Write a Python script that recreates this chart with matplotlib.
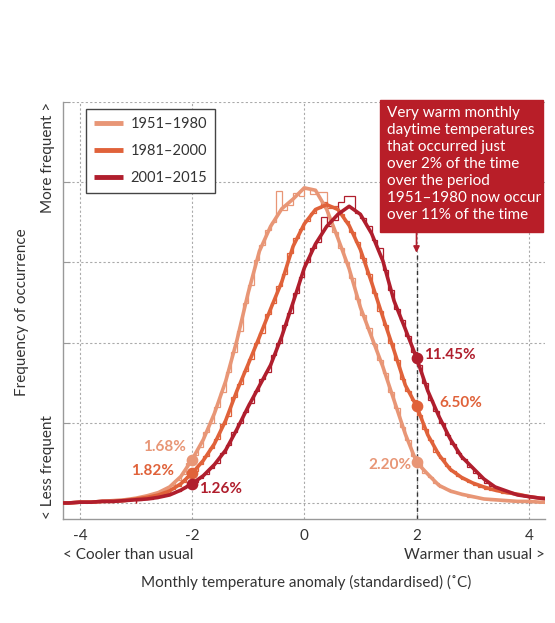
import numpy as np
import matplotlib
matplotlib.use("Agg")
import matplotlib.pyplot as plt
from matplotlib.patches import Rectangle

plt.rcParams['font.family'] = ['Lato', 'DejaVu Sans']

# periods
labels = ["1951\u20131980", "1981\u20132000", "2001\u20132015"]
colors = ["#E89676", "#E0623A", "#B01E2D"]

# smoothed curves, x = -4.4 .. 4.4 step 0.2
curve_x = np.linspace(-4.4, 4.4, 45)
curve_1951 = [0.000, 0.000, 0.001, 0.001, 0.002, 0.003, 0.004, 0.006, 0.009, 0.013,
              0.020, 0.033, 0.054, 0.079, 0.112, 0.152, 0.203, 0.262, 0.314, 0.345,
              0.367, 0.379, 0.393, 0.390, 0.366, 0.330, 0.292, 0.244, 0.207, 0.170,
              0.128, 0.086, 0.051, 0.036, 0.022, 0.015, 0.011, 0.008, 0.005, 0.004,
              0.003, 0.002, 0.002, 0.001, 0.001]
curve_1981 = [0.000, 0.000, 0.001, 0.001, 0.002, 0.002, 0.003, 0.005, 0.007, 0.010,
              0.015, 0.024, 0.037, 0.053, 0.074, 0.103, 0.140, 0.173, 0.207, 0.242,
              0.276, 0.320, 0.348, 0.366, 0.372, 0.366, 0.346, 0.316, 0.275, 0.232,
              0.190, 0.147, 0.121, 0.085, 0.060, 0.042, 0.032, 0.025, 0.020, 0.016,
              0.013, 0.011, 0.008, 0.006, 0.005]
curve_2001 = [0.000, 0.000, 0.001, 0.001, 0.002, 0.002, 0.003, 0.004, 0.005, 0.007,
              0.010, 0.016, 0.024, 0.034, 0.048, 0.066, 0.092, 0.120, 0.146, 0.172,
              0.208, 0.250, 0.293, 0.323, 0.345, 0.360, 0.370, 0.360, 0.336, 0.302,
              0.252, 0.217, 0.181, 0.140, 0.108, 0.080, 0.058, 0.044, 0.030, 0.020,
              0.015, 0.010, 0.008, 0.006, 0.005]

# histograms, bins of 0.1 from -3.0 to 4.0
hist_edges = np.linspace(-3.0, 4.0, 71)
hist_1951 = [0.006, 0.008, 0.010, 0.012, 0.014, 0.018, 0.023, 0.029, 0.036, 0.050,
             0.060, 0.070, 0.088, 0.100, 0.120, 0.138, 0.163, 0.188, 0.215, 0.250,
             0.272, 0.303, 0.322, 0.340, 0.350, 0.389, 0.365, 0.372, 0.386, 0.383,
             0.392, 0.385, 0.388, 0.388, 0.350, 0.338, 0.318, 0.300, 0.280, 0.255,
             0.235, 0.218, 0.198, 0.178, 0.162, 0.138, 0.118, 0.095, 0.078, 0.058,
             0.048, 0.038, 0.032, 0.025, 0.020, 0.017, 0.014, 0.012, 0.010, 0.008,
             0.007, 0.006, 0.005, 0.004, 0.004, 0.003, 0.003, 0.002, 0.002, 0.002]
hist_1981 = [0.005, 0.006, 0.007, 0.009, 0.011, 0.013, 0.017, 0.021, 0.026, 0.034,
             0.040, 0.048, 0.058, 0.068, 0.080, 0.098, 0.108, 0.132, 0.148, 0.165,
             0.180, 0.200, 0.212, 0.236, 0.250, 0.270, 0.285, 0.312, 0.330, 0.342,
             0.352, 0.362, 0.368, 0.375, 0.368, 0.370, 0.360, 0.352, 0.338, 0.325,
             0.305, 0.285, 0.262, 0.240, 0.222, 0.200, 0.178, 0.155, 0.140, 0.128,
             0.110, 0.092, 0.078, 0.064, 0.056, 0.046, 0.040, 0.034, 0.030, 0.026,
             0.023, 0.020, 0.018, 0.016, 0.015, 0.013, 0.012, 0.011, 0.010, 0.009]
hist_2001 = [0.004, 0.005, 0.005, 0.006, 0.009, 0.011, 0.012, 0.015, 0.019, 0.022,
             0.026, 0.031, 0.036, 0.044, 0.050, 0.062, 0.072, 0.088, 0.100, 0.113,
             0.125, 0.140, 0.155, 0.163, 0.185, 0.200, 0.222, 0.237, 0.262, 0.282,
             0.300, 0.318, 0.325, 0.357, 0.345, 0.353, 0.375, 0.383, 0.383, 0.362,
             0.355, 0.345, 0.328, 0.318, 0.290, 0.265, 0.242, 0.228, 0.208, 0.188,
             0.172, 0.150, 0.128, 0.115, 0.100, 0.085, 0.073, 0.062, 0.055, 0.045,
             0.038, 0.031, 0.025, 0.021, 0.018, 0.015, 0.013, 0.011, 0.011, 0.009]

# highlighted points at -2 and +2
cold_y = [0.054, 0.037, 0.024]
cold_text = ["1.68%", "1.82%", "1.26%"]
warm_y = [0.051, 0.121, 0.181]
warm_text = ["2.20%", "6.50%", "11.45%"]

curves = [curve_1951, curve_1981, curve_2001]
hists = [hist_1951, hist_1981, hist_2001]

fig = plt.figure(figsize=(5.55, 6.23), dpi=100)
ax = fig.add_axes([0.1135, 0.1669, 0.8685, 0.6693])

for i in range(3):
    ax.stairs(hists[i], hist_edges, color=colors[i], lw=0.9, zorder=2)
for i in range(3):
    ax.plot(curve_x, curves[i], color=colors[i], lw=2.6, label=labels[i],
            solid_capstyle='butt', zorder=3)

# dashed line at +2 and arrow from the note
ax.plot([2, 2], [-0.02, 0.312], color="#333333", lw=1, ls=(0, (3, 2.5)), zorder=1.5)
ax.annotate("", xy=(2, 0.312), xytext=(2, 0.339),
            arrowprops=dict(arrowstyle="-|>", color="#B01E2D", lw=1.2,
                            mutation_scale=9, shrinkA=0, shrinkB=0))

for i in range(3):
    ax.scatter([-2], [cold_y[i]], s=55, color=colors[i], zorder=4)
    ax.scatter([2], [warm_y[i]], s=55, color=colors[i], zorder=4)

tkw = dict(fontsize=11, fontweight='bold', va='center')
ax.text(-2.107, 0.070, cold_text[0], color=colors[0], ha='right', **tkw)
ax.text(-2.32, 0.040, cold_text[1], color=colors[1], ha='right', **tkw)
ax.text(-1.875, 0.0175, cold_text[2], color=colors[2], ha='left', **tkw)
ax.text(1.91, 0.0475, warm_text[0], color=colors[0], ha='right', **tkw)
ax.text(2.41, 0.125, warm_text[1], color=colors[1], ha='left', **tkw)
ax.text(2.14, 0.184, warm_text[2], color=colors[2], ha='left', **tkw)

ax.set_xlim(-4.3, 4.29)
ax.set_ylim(-0.02, 0.5)
ax.set_xticks([-4, -2, 0, 2, 4])
ax.set_xticklabels(["-4", "-2", "0", "2", "4"])
ax.set_yticks([0, 0.1, 0.2, 0.3, 0.4, 0.5])
ax.set_yticklabels([])
ax.tick_params(axis='x', length=0, pad=7, labelsize=11, labelcolor="#333333")
ax.tick_params(axis='y', direction='in', length=5, color="#999999")
ax.grid(True, color="#aaaaaa", ls=(0, (2, 2)), lw=0.8)
ax.set_axisbelow(True)
for s in ['top', 'right']:
    ax.spines[s].set_visible(False)
for s in ['left', 'bottom']:
    ax.spines[s].set_color("#999999")
    ax.spines[s].set_linewidth(1)

leg = ax.legend(loc='upper left', bbox_to_anchor=(0.0477, 0.983), borderaxespad=0,
                fontsize=10.5, fancybox=False, framealpha=1, edgecolor="#444444",
                handlelength=2.0, handletextpad=0.5, labelspacing=0.9, borderpad=0.55)
leg.get_frame().set_linewidth(1)
for h in leg.get_lines():
    h.set_linewidth(3.5)
for t in leg.get_texts():
    t.set_color("#333333")

# note box
W, H = 555, 623
fig.patches.append(Rectangle((380 / W, 1 - 232 / H), 163 / W, 132 / H,
                             transform=fig.transFigure, color="#B81E28", zorder=0))
fig.text(387 / W, 1 - 106 / H,
         "Very warm monthly\ndaytime temperatures\nthat occurred just\nover 2% of the time\n"
         "over the period\n1951\u20131980 now occur\nover 11% of the time",
         color="white", fontsize=11, ha='left', va='top', linespacing=1.27)

# axis labels
lab = dict(fontsize=11, color="#333333")
fig.text(22 / W, 1 - 312 / H, "Frequency of occurrence", rotation=90,
         ha='center', va='center', **lab)
fig.text(48 / W, 1 - 102 / H, "More frequent >", rotation=90,
         ha='center', va='top', **lab)
fig.text(48 / W, 1 - 519 / H, "< Less frequent", rotation=90,
         ha='center', va='bottom', **lab)
fig.text(63 / W, 1 - 555 / H, "< Cooler than usual", ha='left', va='center', **lab)
fig.text(545 / W, 1 - 555 / H, "Warmer than usual >", ha='right', va='center', **lab)
fig.text(306 / W, 1 - 582 / H, "Monthly temperature anomaly (standardised) (\u02daC)",
         ha='center', va='center', **lab)

fig.savefig("out.png", dpi=100)
